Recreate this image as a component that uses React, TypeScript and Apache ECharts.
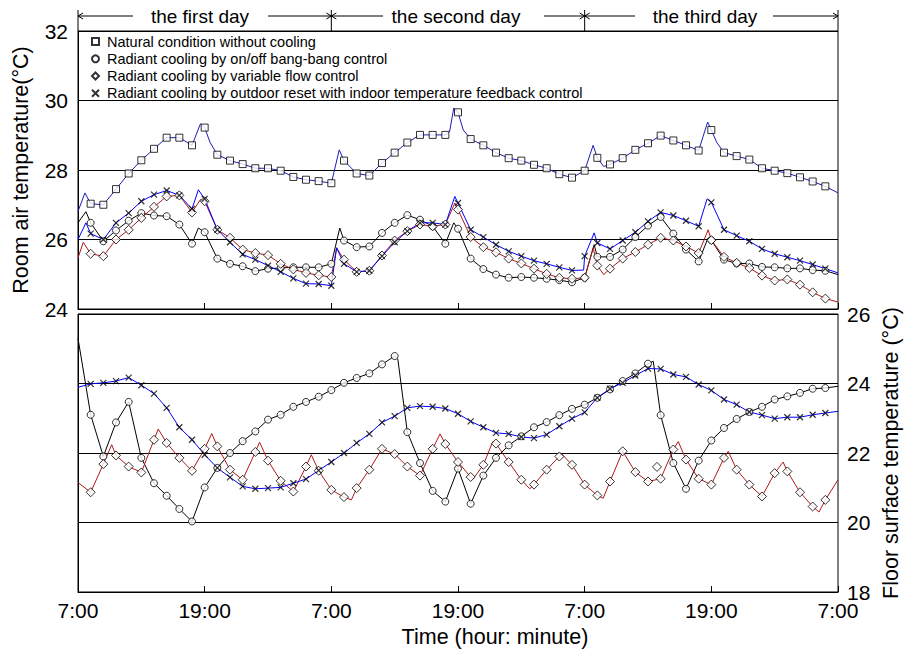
import React, { useEffect, useRef } from "react";
import * as echarts from "echarts";

// ---------- data ----------
// marker times (hours after 7:00 of the first day)
const markerHours = [
  1.2, 2.4, 3.6, 4.8, 6, 7.2, 8.4, 9.6, 10.8, 12,
  13.2, 14.4, 15.6, 16.8, 18, 19.2, 20.4, 21.6, 22.8, 24,
  25.2, 26.4, 27.6, 28.8, 30, 31.2, 32.4, 33.6, 34.8, 36,
  37.2, 38.4, 39.6, 40.8, 42, 43.2, 44.4, 45.6, 46.8, 48,
  49.2, 50.4, 51.6, 52.8, 54, 55.2, 56.4, 57.6, 58.8, 60,
  61.2, 62.4, 63.6, 64.8, 66, 67.2, 68.4, 69.6, 70.8,
];

const xTickLabels = ["7:00", "19:00", "7:00", "19:00", "7:00", "19:00", "7:00"];
const dayLabels = ["the first day", "the second day", "the third day"];
const axisTitles = ["Room air temperature(°C)", "Floor surface temperature (°C)", "Time (hour: minute)"];

const seriesNames = [
  "Natural condition without cooling",
  "Radiant cooling by on/off bang-bang control",
  "Radiant cooling by variable flow control",
  "Radiant cooling by outdoor reset with indoor temperature feedback control",
];

// Room air temperature (°C) at marker times
const naturalRoom = [
  27.03, 27.0, 27.45, 27.9, 28.28, 28.61, 28.93, 28.93, 28.71, 29.22,
  28.44, 28.27, 28.17, 28.05, 28.05, 27.98, 27.8, 27.72, 27.68, 27.62,
  28.27, 27.9, 27.84, 28.2, 28.5, 28.79, 29.01, 29.01, 29.01, 29.66,
  28.89, 28.71, 28.5, 28.34, 28.27, 28.15, 28.05, 27.88, 27.78, 27.98,
  28.35, 28.16, 28.34, 28.58, 28.77, 28.99, 28.85, 28.71, 28.56, 29.15,
  28.5, 28.4, 28.3, 28.05, 27.98, 27.91, 27.79, 27.67, 27.53,
];
const naturalRoomExtra = [
  [0, 26.81], [0.66, 27.34], [11.6, 29.33], [12.5, 28.8], [24.75, 28.58],
  [35.2, 29.1], [35.6, 29.78], [36.5, 29.15], [48.8, 28.71], [49.8, 28.1],
  [59.65, 29.38], [60.5, 28.8], [72, 27.34],
];

const onoffRoom = [
  26.48, 25.95, 26.26, 26.54, 26.76, 26.69, 26.67, 26.43, 25.88, 26.21,
  25.45, 25.3, 25.23, 25.09, 25.16, 25.18, 25.2, 25.2, 25.2, 25.3,
  25.97, 25.78, 25.8, 26.19, 26.48, 26.7, 26.57, 26.38, 25.88, 26.31,
  25.45, 25.15, 24.99, 24.9, 24.92, 24.9, 24.87, 24.83, 24.77, 24.9,
  25.5, 25.5, 25.71, 26.07, 26.4, 26.65, 26.17, 25.71, 25.37, 25.98,
  25.42, 25.31, 25.31, 25.21, 25.2, 25.17, 25.17, 25.12, 25.1,
];
const onoffRoomExtra = [
  [0, 26.48], [0.75, 26.8], [11.4, 26.33], [24.8, 26.33], [35.6, 26.48],
  [48.9, 25.85], [59.7, 26.05], [72, 24.99],
];

const varflowRoom = [
  25.59, 25.52, 26.0, 26.28, 26.62, 26.94, 27.24, 27.27, 26.78, 27.1,
  26.28, 26.05, 25.71, 25.61, 25.55, 25.3, 25.14, 25.04, 24.97, 24.92,
  25.42, 25.07, 25.1, 25.54, 25.97, 26.24, 26.43, 26.38, 26.43, 26.86,
  26.07, 25.78, 25.63, 25.45, 25.31, 25.16, 25.01, 24.9, 24.87, 24.9,
  25.25, 25.16, 25.45, 25.64, 25.85, 26.05, 25.97, 25.8, 25.61, 25.98,
  25.5, 25.33, 25.18, 24.96, 24.82, 24.85, 24.7, 24.48, 24.3,
];
const varflowRoomExtra = [
  [0, 25.47], [0.5, 25.92], [11.6, 27.15], [24.5, 25.76], [35.7, 27.05],
  [48.8, 25.76], [49.8, 24.99], [59.7, 26.28], [72, 24.2],
];

const resetRoom = [
  26.17, 26.0, 26.48, 26.76, 27.1, 27.29, 27.41, 27.27, 26.88, 27.17,
  26.28, 25.92, 25.57, 25.42, 25.25, 25.07, 24.88, 24.73, 24.72, 24.67,
  25.3, 25.07, 25.1, 25.52, 25.92, 26.24, 26.48, 26.48, 26.43, 27.05,
  26.28, 26.07, 25.85, 25.66, 25.52, 25.39, 25.3, 25.2, 25.11, 25.52,
  25.9, 25.73, 25.97, 26.21, 26.52, 26.78, 26.69, 26.54, 26.38, 27.07,
  26.28, 26.11, 25.95, 25.73, 25.59, 25.49, 25.39, 25.28, 25.16,
];
const resetRoomExtra = [
  [0, 26.0], [0.75, 26.48], [11.4, 27.43], [24.5, 25.76], [35.7, 27.24],
  [47.9, 25.12], [48.9, 26.19], [59.6, 27.17], [72, 25.04],
];

// Floor surface temperature (°C) at marker times
const onoffFloor = [
  23.1, 21.9, 22.88, 23.47, 21.86, 21.13, 20.77, 20.39, 20.03, 21.01,
  21.57, 22.0, 22.34, 22.62, 22.96, 23.1, 23.33, 23.47, 23.62, 23.81,
  24.02, 24.16, 24.29, 24.55, 24.79, 22.6, 21.71, 20.91, 20.6, 21.55,
  20.54, 21.35, 21.86, 22.22, 22.48, 22.74, 22.89, 23.09, 23.27, 23.39,
  23.59, 23.83, 24.07, 24.29, 24.57, 23.09, 21.71, 20.97, 21.78, 22.36,
  22.72, 22.98, 23.18, 23.33, 23.54, 23.63, 23.73, 23.85, 23.87,
];
const onoffFloorExtra = [[0, 25.3], [30.3, 24.7], [54.5, 24.64], [72, 23.92]];

const varflowFloor = [
  20.87, 21.68, 21.93, 21.61, 21.44, 22.38, 22.29, 21.86, 21.49, 22.12,
  22.19, 21.52, 21.23, 22.03, 21.78, 21.2, 20.89, 21.61, 21.49, 20.94,
  20.73, 20.99, 21.52, 22.12, 21.97, 21.61, 21.35, 22.12, 22.26, 21.74,
  21.31, 21.66, 22.27, 21.74, 21.23, 21.09, 21.52, 21.9, 21.66, 21.09,
  20.78, 21.18, 22.05, 21.45, 21.18, 21.26, 22.1, 21.81, 21.26, 21.09,
  21.86, 21.52, 21.09, 20.75, 21.42, 21.47, 20.87, 20.46, 20.65,
];
const varflowFloorExtra = [
  [0, 21.15], [3.19, 22.24], [7.6, 22.69], [12.67, 22.56], [17.2, 22.31],
  [22.1, 21.95], [25.9, 20.65], [34.3, 22.55], [37.45, 21.26], [39.3, 22.33],
  [42.8, 20.97], [45.8, 21.98], [49.76, 20.7], [56.87, 22.33], [61.6, 22.05],
  [66.8, 21.74], [70.2, 20.3], [72, 21.23],
];
const varflowFloorOddMarks = [[54.85, 21.6]];

const resetFloor = [
  23.99, 24.02, 24.07, 24.17, 23.95, 23.71, 23.3, 22.74, 22.38, 21.95,
  21.57, 21.3, 21.04, 20.97, 20.99, 21.01, 21.13, 21.25, 21.5, 21.74,
  22.0, 22.29, 22.55, 22.88, 23.06, 23.3, 23.35, 23.33, 23.28, 23.13,
  22.91, 22.74, 22.58, 22.55, 22.46, 22.43, 22.53, 22.77, 22.99, 23.17,
  23.59, 23.85, 24.02, 24.23, 24.43, 24.42, 24.26, 24.19, 23.97, 23.8,
  23.54, 23.39, 23.18, 23.09, 22.99, 23.03, 23.03, 23.1, 23.15,
];
const resetFloorExtra = [[0, 23.89], [72, 23.2]];

// ---------- helpers ----------
const FONT = "'Liberation Sans', Arial, Helvetica, sans-serif";
const GRID_LEFT = 78;
const GRID_W = 760;
const xOf = (h: number) => GRID_LEFT + (h * GRID_W) / 72;

const pairs = (hours: number[], vals: number[]) => hours.map((h, i) => [h, vals[i]]);
const lineData = (marks: number[][], extra: number[][]) =>
  [...marks, ...extra].sort((a, b) => a[0] - b[0]);

const CROSS = "path://M0,0L10,10M10,0L0,10";
const markerStyle = { color: "#fff", borderColor: "#000", borderWidth: 1 };
const crossStyle = { color: "rgba(0,0,0,0)", borderColor: "#000", borderWidth: 1.2 };

const NAVY = "#1c1cb8";
const BLUE = "#0000ff";
const RED = "#b01818";

function lineSeries(name: string, grid: number, data: number[][], color: string) {
  return {
    type: "line",
    name,
    xAxisIndex: grid,
    yAxisIndex: grid,
    data,
    showSymbol: false,
    symbol: "none",
    silent: true,
    lineStyle: { color, width: 1 },
    z: 2,
  };
}

function markSeries(name: string, grid: number, data: number[][], symbol: string, size: number) {
  return {
    type: "scatter",
    name,
    xAxisIndex: grid,
    yAxisIndex: grid,
    data,
    symbol,
    symbolSize: size,
    itemStyle: symbol === CROSS ? crossStyle : markerStyle,
    silent: true,
    z: 5,
  };
}

function textEl(text: string, x: number, y: number, size: number, rotation = 0) {
  return {
    type: "text",
    x,
    y,
    rotation,
    style: {
      text,
      fill: "#000",
      font: `${size}px ${FONT}`,
      align: "center",
      verticalAlign: "middle",
      textAlign: "center",
      textVerticalAlign: "middle",
    },
  };
}

function headerGraphics() {
  const els: any[] = [];
  const y = 16;
  const b = [xOf(0), xOf(24), xOf(48), xOf(72)];
  const segs = [
    { l1: 133, t: 200, r0: 268 },
    { l1: 383, t: 456, r0: 544 },
    { l1: 635, t: 705, r0: 773 },
  ];
  b.forEach((x) => {
    els.push({ type: "line", shape: { x1: x, y1: 10, x2: x, y2: 31 }, style: { stroke: "#000", lineWidth: 1 } });
  });
  segs.forEach((s, i) => {
    const x0 = b[i];
    const x1 = b[i + 1];
    els.push({ type: "line", shape: { x1: x0, y1: y, x2: s.l1, y2: y }, style: { stroke: "#000", lineWidth: 1 } });
    els.push({ type: "line", shape: { x1: s.r0, y1: y, x2: x1, y2: y }, style: { stroke: "#000", lineWidth: 1 } });
    els.push({
      type: "polyline",
      shape: { points: [[x0 + 5, y - 3], [x0, y], [x0 + 5, y + 3]] },
      style: { stroke: "#000", fill: null, lineWidth: 1 },
    });
    els.push({
      type: "polyline",
      shape: { points: [[x1 - 5, y - 3], [x1, y], [x1 - 5, y + 3]] },
      style: { stroke: "#000", fill: null, lineWidth: 1 },
    });
    els.push(textEl(dayLabels[i], s.t, y, 19));
  });
  els.push(textEl(axisTitles[0], 21, 170, 21.5, Math.PI / 2));
  els.push(textEl(axisTitles[1], 891, 453, 21.5, Math.PI / 2));
  els.push(textEl(axisTitles[2], 495, 637, 21.5));
  return els;
}

export default function App() {
  const ref = useRef<HTMLDivElement>(null);

  useEffect(() => {
    document.body.style.margin = "0";
    if (!ref.current) return;
    const chart = echarts.init(ref.current, undefined, { renderer: "svg" });

    const axisLine = { show: true, lineStyle: { color: "#000", width: 1 } };
    const xBase = {
      type: "value",
      min: 0,
      max: 72,
      interval: 12,
      axisLine,
      axisTick: { show: true, inside: true, length: 6, lineStyle: { color: "#000" } },
      splitLine: { show: false },
    };
    const yBase = {
      type: "value",
      interval: 2,
      axisLine,
      axisTick: { show: false },
      splitLine: { show: true, lineStyle: { color: "#000", width: 1 } },
      axisLabel: { color: "#000", fontSize: 21, fontFamily: FONT },
    };

    const gridBase = {
      left: GRID_LEFT,
      width: GRID_W,
      height: 278,
      show: true,
      borderColor: "#000",
      borderWidth: 1,
      containLabel: false,
      outerBoundsMode: "none",
    };

    const option: any = {
      animation: false,
      backgroundColor: "#fff",
      textStyle: { fontFamily: FONT },
      grid: [
        { ...gridBase, top: 31 },
        { ...gridBase, top: 314 },
      ],
      xAxis: [
        { ...xBase, gridIndex: 0, axisLabel: { show: false } },
        {
          ...xBase,
          gridIndex: 1,
          axisLabel: {
            show: true,
            color: "#000",
            fontSize: 21,
            fontFamily: FONT,
            margin: 8,
            formatter: (v: number) => xTickLabels[Math.round(v / 12)] ?? "",
          },
        },
      ],
      yAxis: [
        {
          ...yBase,
          gridIndex: 0,
          min: 24,
          max: 32,
          position: "left",
          axisLabel: { ...yBase.axisLabel, margin: 10 },
        },
        {
          ...yBase,
          gridIndex: 1,
          min: 18,
          max: 26,
          position: "right",
          axisLabel: { ...yBase.axisLabel, margin: 9 },
        },
      ],
      legend: {
        data: seriesNames,
        orient: "vertical",
        left: 91,
        top: 33,
        itemWidth: 7,
        itemHeight: 7,
        itemGap: 0,
        selectedMode: false,
        padding: 0,
        textStyle: { color: "#000", fontSize: 14.5, fontFamily: FONT, lineHeight: 17.2, padding: [0, 0, 0, 3] },
      },
      series: [
        // room air (top panel)
        lineSeries("l-nat", 0, lineData(pairs(markerHours, naturalRoom), naturalRoomExtra), NAVY),
        lineSeries("l-onoff", 0, lineData(pairs(markerHours, onoffRoom), onoffRoomExtra), "#000"),
        lineSeries("l-vf", 0, lineData(pairs(markerHours, varflowRoom), varflowRoomExtra), RED),
        lineSeries("l-reset", 0, lineData(pairs(markerHours, resetRoom), resetRoomExtra), BLUE),
        markSeries(seriesNames[0], 0, pairs(markerHours, naturalRoom), "rect", 7),
        markSeries(seriesNames[1], 0, pairs(markerHours, onoffRoom), "circle", 7),
        markSeries(seriesNames[2], 0, pairs(markerHours, varflowRoom), "diamond", 9),
        markSeries(seriesNames[3], 0, pairs(markerHours, resetRoom), CROSS, 6),
        // floor surface (bottom panel)
        lineSeries("f-onoff", 1, lineData(pairs(markerHours, onoffFloor), onoffFloorExtra), "#000"),
        lineSeries("f-vf", 1, lineData(pairs(markerHours, varflowFloor), varflowFloorExtra), RED),
        lineSeries("f-reset", 1, lineData(pairs(markerHours, resetFloor), resetFloorExtra), BLUE),
        markSeries(seriesNames[1], 1, pairs(markerHours, onoffFloor), "circle", 7),
        markSeries(seriesNames[2], 1, [...pairs(markerHours, varflowFloor), ...varflowFloorOddMarks], "diamond", 9),
        markSeries(seriesNames[3], 1, pairs(markerHours, resetFloor), CROSS, 6),
      ],
      graphic: headerGraphics(),
    };

    chart.setOption(option);
    return () => chart.dispose();
  }, []);

  return <div ref={ref} style={{ width: 904, height: 653 }} />;
}
